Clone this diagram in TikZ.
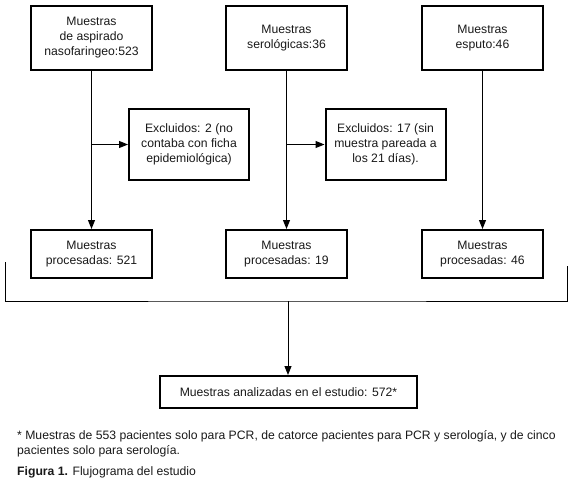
\documentclass[tikz,border=0pt]{standalone}
\usepackage{fontspec}
\setmainfont{Liberation Sans}
\usepackage{tikz}
\usetikzlibrary{arrows.meta,positioning,calc}

\begin{document}
\begin{tikzpicture}[
    x=1pt, y=-1pt,
    every node/.style={font=\fontsize{12.2pt}{15pt}\selectfont, text=black!90},
    sample/.style={rectangle, draw=black, line width=2pt, minimum width=121pt, minimum height=64pt, align=center, inner sep=2pt},
    excl/.style={rectangle, draw=black, line width=2pt, minimum width=120pt, minimum height=71pt, align=center, inner sep=2pt},
    done/.style={rectangle, draw=black, line width=2pt, minimum width=121pt, minimum height=48pt, align=center, inner sep=2pt},
    total/.style={rectangle, draw=black, line width=2pt, minimum width=257pt, minimum height=32pt, align=center},
    arrow/.style={-{Triangle[length=9pt,width=7pt]}, line width=1pt},
    link/.style={line width=1pt}
]
\useasboundingbox (0,0) rectangle (572,485);

% fila superior
\node (asp) [sample] at (91.5,38) {Muestras\\de aspirado\\nasofaringeo:523};
\node (sero) [sample, right=72pt of asp] {Muestras\\serológicas:36};
\node (esp) [sample, right=73pt of sero] {Muestras\\esputo:46};

% excluidos
\node (exc1) [excl] at (189,144.5) {Excluidos: 2 (no\\contaba con ficha\\epidemiológica)};
\node (exc2) [excl] at (385.5,144.5) {Excluidos: 17 (sin\\muestra pareada a\\los 21 días).};

% procesadas
\node (proc1) [done, below=158pt of asp] {Muestras\\procesadas: 521};
\node (proc2) [done, below=158pt of sero] {Muestras\\procesadas: 19};
\node (proc3) [done, below=158pt of esp] {Muestras\\procesadas: 46};

\node (fin) [total] at (288.5,392) {Muestras analizadas en el estudio: 572*};

\draw [arrow] (asp) -- (proc1);
\draw [arrow] (sero) -- (proc2);
\draw [arrow] (esp) -- (proc3);

\coordinate (c1) at (asp.south |- exc1.west);
\coordinate (c2) at (sero.south |- exc2.west);
\draw [arrow] (c1) -- (exc1.west);
\draw [arrow] (c2) -- (exc2.west);

% llave inferior
\coordinate (bl) at (5,262);
\coordinate (br) at (567,266);
\coordinate (bj) at (288,301);
\draw [link] (bl) |- (bj) -| (br);
\draw [arrow] (bj) -- (bj |- fin.north);

% nota y título
\node (nota) [anchor=north west, align=left, inner sep=0pt] at (17,430)
    {* Muestras de 553 pacientes solo para PCR, de catorce pacientes para PCR y serología, y de cinco\\pacientes solo para serología.};
\node (fig) [anchor=west, inner sep=0pt] at (17,472) {\textbf{Figura 1.} Flujograma del estudio};

\end{tikzpicture}
\end{document}
